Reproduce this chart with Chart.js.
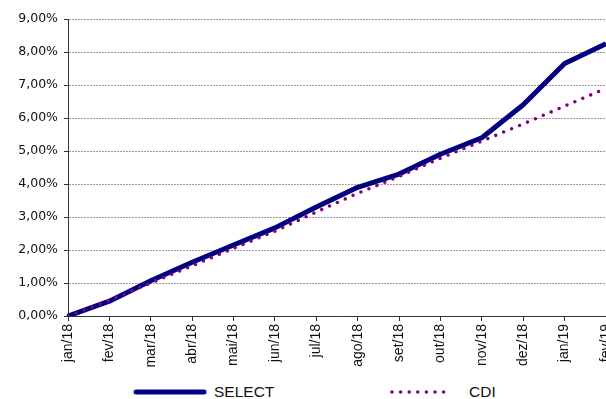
<!DOCTYPE html>
<html>
<head>
<meta charset="utf-8">
<script src="https://cdn.jsdelivr.net/npm/chart.js@4"></script>
<style>
  body { margin: 0; background: #fff; overflow: hidden; }
  #wrap { position: relative; width: 606px; height: 399px; }
  #legend { position: absolute; top: 381px; left: 0; width: 606px; height: 20px; font-family: "Liberation Sans", Arial, sans-serif; font-size: 15.5px; color: #111; }
  .item { position: absolute; top: 0; display: flex; align-items: center; height: 22px; }
  .item svg { margin-right: 7px; }
</style>
</head>
<body>
<div id="wrap">
  <canvas id="chart" width="606" height="372" style="width:606px;height:372px;display:block"></canvas>
  <div id="legend">
    <div class="item" style="left:133px">
      <svg width="74" height="8"><line x1="3" y1="4" x2="71" y2="4" stroke="#000080" stroke-width="5" stroke-linecap="round"/></svg>
      <span>SELECT</span>
    </div>
    <div class="item" style="left:389px">
      <svg width="66" height="8"><line x1="3" y1="4" x2="63" y2="4" stroke="#800080" stroke-width="3.6" stroke-linecap="round" stroke-dasharray="0 8.6"/></svg>
      <span style="margin-left:7px">CDI</span>
    </div>
  </div>
</div>
<script>
const months = ["jan/18", "fev/18", "mar/18", "abr/18", "mai/18", "jun/18", "jul/18",
  "ago/18", "set/18", "out/18", "nov/18", "dez/18", "jan/19", "fev/19"];
const selectValues = [0, 0.45, 1.07, 1.63, 2.15, 2.67, 3.3, 3.9, 4.3, 4.9, 5.4, 6.4, 7.65, 8.25];
const cdiValues = [0, 0.47, 1.0, 1.52, 2.05, 2.57, 3.15, 3.72, 4.23, 4.78, 5.3, 5.82, 6.36, 6.9];

const ctx = document.getElementById("chart");

new Chart(ctx, {
  type: "line",
  data: {
    labels: months,
    datasets: [
      {
        label: "SELECT",
        data: selectValues,
        borderColor: "#000080",
        borderWidth: 5,
        borderJoinStyle: "round",
        pointRadius: 0,
        tension: 0,
        fill: false,
        order: 1,
      },
      {
        label: "CDI",
        data: cdiValues,
        borderColor: "#800080",
        borderWidth: 3.6,
        borderDash: [0, 8.6],
        borderCapStyle: "round",
        pointRadius: 0,
        tension: 0,
        fill: false,
        order: 0,
      },
    ],
  },
  options: {
    responsive: false,
    animation: false,
    layout: { padding: { top: 19, right: 0, bottom: 0, left: 0 } },
    plugins: {
      legend: { display: false },
      tooltip: { enabled: false },
    },
    scales: {
      x: {
        offset: false,
        grid: {
          drawOnChartArea: false,
          drawTicks: true,
          tickLength: 5,
          color: "#333",
        },
        border: { color: "#333", width: 1 },
        ticks: {
          autoSkip: false,
          minRotation: 90,
          maxRotation: 90,
          padding: 3,
          color: "#111",
          font: { family: "Liberation Sans", size: 14 },
        },
        afterFit: (s) => {
          s.height = 56;
          s.paddingRight = 0;
          s.paddingLeft = 0;
        },
      },
      y: {
        min: 0,
        max: 9,
        grid: {
          color: "#999",
          tickLength: 4,
          tickBorderDash: [],
          tickColor: "#333",
        },
        // in v4 border.dash styles the grid lines
        border: { color: "#333", width: 1, dash: [2, 1] },
        ticks: {
          stepSize: 1,
          padding: 6,
          color: "#111",
          font: { family: "DejaVu Sans", size: 12.5 },
          callback: (v) => v.toFixed(2).replace(".", ",") + "%",
        },
        afterFit: (s) => {
          s.width = 68;
        },
      },
    },
  },
});
</script>
</body>
</html>
